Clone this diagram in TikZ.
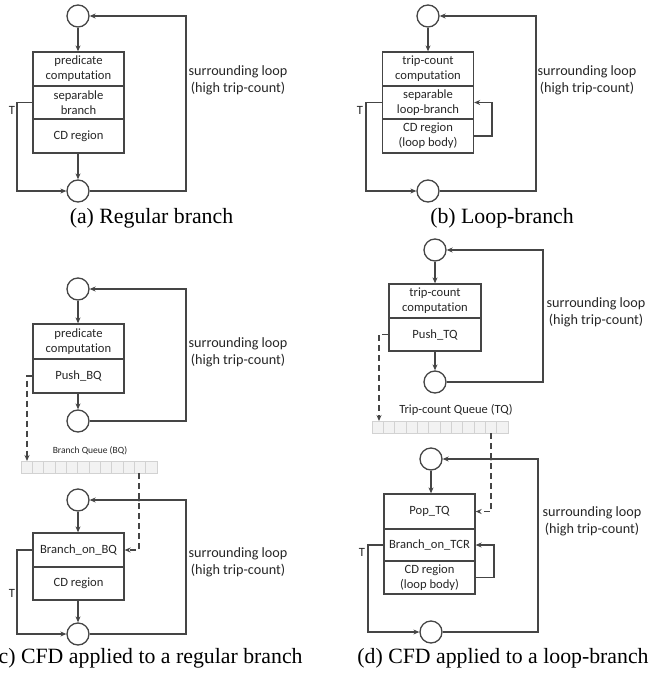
\documentclass[tikz,border=0pt]{standalone}
\usepackage{fontspec}
\setmainfont{Carlito}[Ligatures={NoCommon}]
\newfontfamily\capfont{Liberation Serif}
\usetikzlibrary{arrows.meta,calc}
\definecolor{linec}{HTML}{454545}
\begin{document}
\begin{tikzpicture}[x=1pt,y=-1pt,
  cnode/.style={circle,draw=linec,line width=1.3pt,minimum size=22pt,inner sep=0pt},
  sec/.style={rectangle,draw=linec,line width=1.3pt,minimum width=91pt,inner sep=1pt,align=center,font=\fontsize{12.6}{15}\selectfont,text=black!85},
  conn/.style={draw=linec,line width=1.3pt,-{Stealth[length=6pt,width=5pt]}},
  dconn/.style={conn,dash pattern=on 6pt off 4pt},
  lbl/.style={align=center,font=\fontsize{14.2}{17}\selectfont,text=black!85,inner sep=0pt},
  tlbl/.style={font=\fontsize{12.6}{15}\selectfont,text=black!85,inner sep=0pt},
  qlbl/.style={font=\fontsize{12.5}{15}\selectfont,text=black!85,inner sep=0pt},
  qbox/.style={rectangle,fill=gray!10,draw=gray!35,line width=0.6pt,minimum width=136pt,minimum height=12pt,inner sep=0pt},
  cell/.style={draw=gray!35,line width=0.6pt},
  captxt/.style={font=\capfont\fontsize{21.8}{24}\selectfont,inner sep=0pt,anchor=base},
  crossdot/.style={fill=linec}
]
\useasboundingbox (0,0) rectangle (651,675);

% ---------------- (a) ----------------
\node[cnode] (atop) at (78,16) {};
\node[sec,minimum height=34pt] (a1) at (78.5,69) {predicate\\computation};
\node[sec,minimum height=33pt] (a2) at (78.5,102.5) {separable\\branch};
\node[sec,minimum height=34pt] (a3) at (78.5,136) {CD region};
\node[cnode] (abot) at (78,191) {};
\coordinate (aL) at (17,150);
\coordinate (aR) at (186,100);
\draw[conn] (atop.south) -- (atop.south |- a1.north);
\draw[conn] (abot.north |- a3.south) -- (abot.north);
\draw[conn] (a2.west) -| (aL) |- (abot.west);
\draw[conn] (abot.east) -| (aR) |- (atop.east);
\node[tlbl] (aT) at (12,110) {T};
\node[lbl] (aloop) at (238,80.5) {surrounding loop\\(high trip-count)};
\node[captxt] (acap) at (151.5,223) {(a) Regular branch};

% ---------------- (b) ----------------
\node[cnode] (btop) at (428,16) {};
\node[sec,minimum height=34pt] (b1) at (428,69) {trip-count\\computation};
\node[sec,minimum height=33pt] (b2) at (428,102.5) {separable\\loop-branch};
\node[sec,minimum height=34pt] (b3) at (428,136) {CD region\\(loop body)};
\node[cnode] (bbot) at (428,191) {};
\coordinate (bL) at (366,150);
\coordinate (bR) at (536,100);
\coordinate (bS) at (492,120);
\draw[conn] (btop.south) -- (btop.south |- b1.north);
\draw[conn] (b2.west) -| (bL) |- (bbot.west);
\draw[conn] (bbot.east) -| (bR) |- (btop.east);
\draw[conn] (b3.east) -| (bS) |- (b2.east);
\node[tlbl] (bT) at (360,110) {T};
\node[lbl] (bloop) at (587,80.5) {surrounding loop\\(high trip-count)};
\node[captxt] (bcap) at (502,223) {(b) Loop-branch};

% ---------------- (c) ----------------
\node[cnode] (ctop) at (78,289) {};
\node[sec,minimum height=35pt] (c1) at (78.5,341.5) {predicate\\computation};
\node[sec,minimum height=34pt] (c2) at (78.5,376) {Push\_BQ};
\node[cnode] (cbot) at (78,421) {};
\coordinate (cR) at (186,350);
\draw[conn] (ctop.south) -- (ctop.south |- c1.north);
\draw[conn] (cbot.north |- c2.south) -- (cbot.north);
\draw[conn] (cbot.east) -| (cR) |- (ctop.east);
\node[lbl] (cloop) at (238,352) {surrounding loop\\(high trip-count)};

\node[qlbl,font=\fontsize{9.5}{12}\selectfont] (bqlbl) at (90,451) {Branch Queue (BQ)};
\node[qbox] (bq) at (89,467) {};
\foreach \i in {1,...,11} \draw[cell] (21+\i*11.333,461) -- (21+\i*11.333,473);
\coordinate (bqin) at (27,461);
\coordinate (bqout) at (139,473);
\draw[dconn] (c2.west) -| (bqin);

\node[cnode] (dtop0) at (78,500) {};
\node[sec,minimum height=34pt] (e1) at (78.5,550) {Branch\_on\_BQ};
\node[sec,minimum height=33pt] (e2) at (78.5,583.5) {CD region};
\node[cnode] (ebot) at (78,634) {};
\coordinate (eL) at (17,600);
\coordinate (eR) at (186,560);
\draw[conn] (dtop0.south) -- (dtop0.south |- e1.north);
\draw[conn] (ebot.north |- e2.south) -- (ebot.north);
\draw[conn] (e1.west) -| (eL) |- (ebot.west);
\draw[conn] (ebot.east) -| (eR) |- (dtop0.east);
\draw[dconn] (bqout) |- (e1.east);
\fill[crossdot] (139,500) circle (1.6pt);
\node[tlbl] (eT) at (12,593) {T};
\node[lbl] (eloop) at (238,562.5) {surrounding loop\\(high trip-count)};
\node[captxt] (ccap) at (147,663) {(c) CFD applied to a regular branch};

% ---------------- (d) ----------------
\node[cnode] (ftop) at (435,250) {};
\node[sec,minimum width=92pt,minimum height=34pt] (f1) at (435,301) {trip-count\\computation};
\node[sec,minimum width=92pt,minimum height=33pt] (f2) at (435,334.5) {Push\_TQ};
\node[cnode] (fbot) at (435,382) {};
\coordinate (fR) at (543,320);
\draw[conn] (ftop.south) -- (ftop.south |- f1.north);
\draw[conn] (fbot.north |- f2.south) -- (fbot.north);
\draw[conn] (fbot.east) -| (fR) |- (ftop.east);
\node[lbl] (floop) at (596,312) {surrounding loop\\(high trip-count)};

\node[qlbl] (tqlbl) at (456,410) {Trip-count Queue (TQ)};
\node[qbox] (tq) at (440,427) {};
\foreach \i in {1,...,11} \draw[cell] (372+\i*11.333,421) -- (372+\i*11.333,433);
\coordinate (tqin) at (379,421);
\coordinate (tqout) at (491,433);
\draw[dconn] (f2.west) -| (tqin);

\node[cnode] (gtop) at (431,459) {};
\node[sec,minimum height=35pt] (g1) at (429.5,511.5) {Pop\_TQ};
\node[sec,minimum height=32pt] (g2) at (429.5,545) {Branch\_on\_TCR};
\node[sec,minimum height=33pt] (g3) at (429.5,577.5) {CD region\\(loop body)};
\node[cnode] (gbot) at (431,632) {};
\coordinate (gL) at (368,600);
\coordinate (gR) at (538,550);
\coordinate (gS) at (494,560);
\draw[conn] (gtop.south) -- (gtop.south |- g1.north);
\draw[conn] (g2.west) -| (gL) |- (gbot.west);
\draw[conn] (gbot.east) -| (gR) |- (gtop.east);
\draw[conn] (g3.east) -| (gS) |- (g2.east);
\draw[dconn] (tqout) |- (g1.east);
\fill[crossdot] (491,459) circle (1.6pt);
\node[tlbl] (gT) at (362,552) {T};
\node[lbl] (gloop) at (592,521) {surrounding loop\\(high trip-count)};
\node[captxt] (dcap) at (503,663) {(d) CFD applied to a loop-branch};
\end{tikzpicture}
\end{document}
